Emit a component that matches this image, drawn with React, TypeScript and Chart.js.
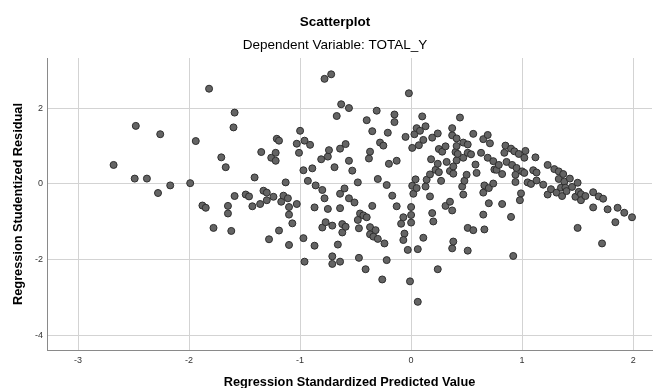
import React, { useEffect, useRef } from "react";
import { Chart, registerables } from "chart.js";

Chart.register(...registerables);

const chartTitle = "Scatterplot";
const chartSubtitle = "Dependent Variable: TOTAL_Y";
const xAxisTitle = "Regression Standardized Predicted Value";
const yAxisTitle = "Regression Studentized Residual";

const xTicks = [-3, -2, -1, 0, 1, 2];
const yTicks = [-4, -2, 0, 2];
const xRange = [-3.28, 2.17];
const yRange = [-4.38, 3.32];

// [standardized predicted value, studentized residual]
const pointsFarLeft = [
  [-1.82, 2.51], [-2.48, 1.53], [-2.26, 1.31], [-1.94, 1.13], [-1.71, 0.7], [-2.68, 0.5], [-2.49, 0.14], [-2.38, 0.14],
  [-2.28, -0.24], [-2.17, -0.04], [-1.99, 0.02], [-1.88, -0.57], [-1.85, -0.63], [-1.78, -1.16], [-1.59, 1.88], [-1.6, 1.49],
  [-1.67, 0.44], [-1.65, -0.58], [-1.65, -0.78], [-1.62, -1.24], [-1.59, -0.32], [-1.49, -0.28], [-1.46, -0.33], [-1.43, -0.59],
  [-1.41, 0.17], [-1.36, -0.53], [-1.35, 0.84], [-1.33, -0.18], [-1.3, -0.23], [-1.3, -0.43], [-1.28, -1.46], [-1.26, 0.69],
  [-1.24, -0.34], [-1.22, 0.82], [-1.22, 0.61], [-1.21, 1.19], [-1.19, 1.14], [-1.19, -1.23], [-1.17, -0.47], [-1.15, -0.31],
  [-1.13, 0.04], [-1.11, -0.38], [-1.1, -0.61], [-1.1, -0.81], [-1.1, -1.61], [-1.07, -1.04], [-1.03, 1.06], [-1.03, -0.53],
  [-1.01, 0.82],
];

const pointsLeft = [
  [-1.0, 1.4], [-0.97, -1.43], [-0.97, 0.36], [-0.96, 1.14], [-0.96, -2.05], [-0.93, 0.08], [-0.91, 1.03], [-0.89, 0.41],
  [-0.87, -0.62], [-0.87, -1.63], [-0.86, -0.04], [-0.81, 0.65], [-0.8, -0.16], [-0.8, -1.15], [-0.78, -0.38], [-0.78, 2.77],
  [-0.77, -1.01], [-0.75, 0.72], [-0.75, -0.66], [-0.74, 0.89], [-0.72, 2.89], [-0.71, -1.1], [-0.71, -1.91], [-0.71, -2.11],
  [-0.69, 0.44], [-0.67, 1.79], [-0.66, -1.6], [-0.64, 0.93], [-0.64, -0.26], [-0.64, -0.64], [-0.64, -2.05], [-0.63, 2.1],
  [-0.62, -1.06], [-0.62, -1.28], [-0.6, -0.12], [-0.59, 1.05], [-0.59, -1.13], [-0.56, 0.61], [-0.56, 2.0], [-0.56, -0.38],
  [-0.53, 0.35], [-0.51, -0.49], [-0.48, 0.04], [-0.48, -0.95], [-0.47, -1.17], [-0.47, -1.95], [-0.46, -0.78], [-0.43, -0.83],
  [-0.41, -2.25], [-0.4, 1.68], [-0.4, -0.88], [-0.38, 0.67], [-0.37, 0.85], [-0.37, -1.14], [-0.37, -1.33], [-0.35, 1.39],
  [-0.35, -0.58], [-0.34, -1.39], [-0.32, -1.22], [-0.31, 1.93], [-0.3, -1.45], [-0.3, 0.13], [-0.28, 1.09], [-0.26, -2.52],
  [-0.25, 1.01], [-0.24, -1.57], [-0.22, -0.03], [-0.22, -2.01], [-0.21, 1.35], [-0.2, 0.53], [-0.17, -0.31], [-0.15, 1.83],
  [-0.15, 1.63], [-0.13, 0.61], [-0.13, -0.59], [-0.07, -0.88], [-0.09, -1.05], [-0.06, -1.31], [-0.07, -1.48], [-0.05, 1.24],
  [-0.03, -1.74], [-0.02, 2.39], [-0.01, -2.57],
];

const pointsRight = [
  [0.0, -0.61], [0.0, -0.82], [0.0, -1.02], [0.01, 0.95], [0.01, -0.05], [0.02, -0.26], [0.03, 1.31], [0.04, 0.12],
  [0.05, 1.47], [0.05, -0.11], [0.06, -3.11], [0.06, -1.72], [0.08, 1.4], [0.07, 1.02], [0.1, 1.78], [0.11, 1.16],
  [0.11, -1.42], [0.13, 1.52], [0.13, -0.07], [0.14, 0.11], [0.17, -0.33], [0.17, 0.25], [0.18, 0.65], [0.19, 1.22],
  [0.19, -0.77], [0.2, -0.99], [0.22, 0.37], [0.24, 1.33], [0.24, 0.53], [0.24, -2.25], [0.25, 0.92], [0.25, 0.31],
  [0.27, 0.08], [0.28, 0.85], [0.31, 0.99], [0.31, -0.58], [0.32, 0.58], [0.35, 0.34], [0.35, -0.47], [0.37, 1.47],
  [0.37, 1.28], [0.37, -0.7], [0.37, -1.7], [0.38, 0.46], [0.38, 0.27], [0.38, -1.52], [0.4, 0.84], [0.41, 1.0],
  [0.41, 1.2], [0.41, 0.62], [0.42, 0.79], [0.44, 1.75], [0.46, -0.07], [0.47, -0.28], [0.47, 1.09], [0.47, 0.69],
  [0.48, 0.08], [0.5, 0.24], [0.51, 1.04], [0.51, 0.82], [0.54, 0.78], [0.51, -1.16], [0.51, -1.76], [0.56, -1.22],
  [0.56, 1.32], [0.58, 0.51], [0.59, 0.29], [0.63, 0.82], [0.65, 1.18], [0.65, -0.23], [0.65, -0.81], [0.66, -0.04],
  [0.66, -1.2], [0.69, 1.29], [0.69, 0.69], [0.7, -0.11], [0.7, -0.51], [0.71, 1.07], [0.74, 0.6], [0.74, 0.01],
  [0.75, 0.38], [0.77, 0.37], [0.79, 0.5], [0.82, 0.26], [0.82, -0.53], [0.85, 1.01], [0.84, 0.82], [0.86, 0.58],
  [0.9, 0.93], [0.9, -0.87], [0.91, 0.5], [0.92, -1.9], [0.93, 0.86], [0.94, 0.24], [0.94, 0.05], [0.95, 0.42],
  [0.97, 0.79], [0.98, -0.43], [0.99, -0.25],
];

const pointsFarRight = [
  [1.0, 0.33], [1.02, 0.29], [1.02, 0.69], [1.03, 0.87], [1.05, 0.04], [1.08, 0.0], [1.1, 0.36], [1.12, 0.7],
  [1.13, 0.3], [1.13, 0.09], [1.19, -0.02], [1.23, -0.28], [1.23, 0.5], [1.26, -0.14], [1.29, 0.39], [1.31, -0.23],
  [1.33, 0.13], [1.33, 0.33], [1.35, -0.1], [1.36, -0.32], [1.37, 0.26], [1.38, 0.06], [1.39, -0.1], [1.4, -0.19],
  [1.43, 0.14], [1.45, -0.08], [1.48, -0.34], [1.5, 0.03], [1.5, -1.16], [1.51, -0.21], [1.53, -0.27], [1.53, -0.43],
  [1.57, -0.32], [1.64, -0.22], [1.64, -0.62], [1.69, -0.33], [1.72, -1.57], [1.73, -0.39], [1.77, -0.67], [1.84, -1.01],
  [1.86, -0.63], [1.92, -0.76], [1.99, -0.88],
];

const FONT = '"Liberation Sans", Arial, sans-serif';

export default function App() {
  const canvasRef = useRef<HTMLCanvasElement | null>(null);

  useEffect(() => {
    const canvas = canvasRef.current;
    if (!canvas) return;

    const titlesPlugin = {
      id: "spssTitles",
      afterDraw(chart: any) {
        const ctx = chart.ctx;
        ctx.save();
        ctx.fillStyle = "#000";
        ctx.textAlign = "center";
        ctx.textBaseline = "middle";
        ctx.font = `bold 13.5px ${FONT}`;
        ctx.fillText(chartTitle, 335, 22);
        ctx.font = `13.5px ${FONT}`;
        ctx.fillText(chartSubtitle, 335, 45);
        ctx.restore();
      },
    };

    const allPoints = [...pointsFarLeft, ...pointsLeft, ...pointsRight, ...pointsFarRight].map(
      ([x, y]) => ({ x, y })
    );

    const chart = new Chart(canvas, {
      type: "scatter",
      data: {
        datasets: [
          {
            data: allPoints,
            pointRadius: 3.5,
            pointHoverRadius: 3.5,
            pointBackgroundColor: "#646464",
            pointBorderColor: "#2e2e2e",
            pointBorderWidth: 1,
          },
        ],
      },
      options: {
        responsive: false,
        animation: false,
        layout: { autoPadding: false, padding: { top: 58, right: 1, left: 0, bottom: 0 } },
        plugins: {
          legend: { display: false },
          tooltip: { enabled: false },
          title: { display: false },
        },
        scales: {
          x: {
            type: "linear",
            min: xRange[0],
            max: xRange[1],
            afterBuildTicks: (scale: any) => {
              scale.ticks = xTicks.map((v) => ({ value: v }));
            },
            afterFit: (scale: any) => {
              scale.height = 38;
            },
            grid: { color: "#d3d3d3", lineWidth: 1, drawTicks: false },
            border: { display: true, color: "#8a8a8a", width: 1 },
            ticks: {
              padding: 5,
              color: "#333",
              font: { family: FONT, size: 9 },
              callback: (v: any) => String(v),
            },
            title: {
              display: true,
              text: xAxisTitle,
              color: "#000",
              font: { family: FONT, size: 12.75, weight: "bold" },
              padding: { top: 0, bottom: -2 },
            },
          },
          y: {
            type: "linear",
            min: yRange[0],
            max: yRange[1],
            afterBuildTicks: (scale: any) => {
              scale.ticks = yTicks.map((v) => ({ value: v }));
            },
            afterFit: (scale: any) => {
              scale.width = 47;
            },
            grid: { color: "#d3d3d3", lineWidth: 1, drawTicks: false },
            border: { display: true, color: "#8a8a8a", width: 1 },
            ticks: {
              padding: 4,
              color: "#333",
              font: { family: FONT, size: 9 },
              callback: (v: any) => String(v),
            },
            title: {
              display: true,
              text: yAxisTitle,
              color: "#000",
              font: { family: FONT, size: 12.75, weight: "bold" },
              padding: { top: 11, bottom: 0 },
            },
          },
        },
      },
      plugins: [titlesPlugin],
    });

    return () => chart.destroy();
  }, []);

  return (
    <div style={{ position: "fixed", left: 0, top: 0, width: 653, height: 388, background: "#fff" }}>
      <canvas ref={canvasRef} width={653} height={388} style={{ display: "block" }} />
    </div>
  );
}
